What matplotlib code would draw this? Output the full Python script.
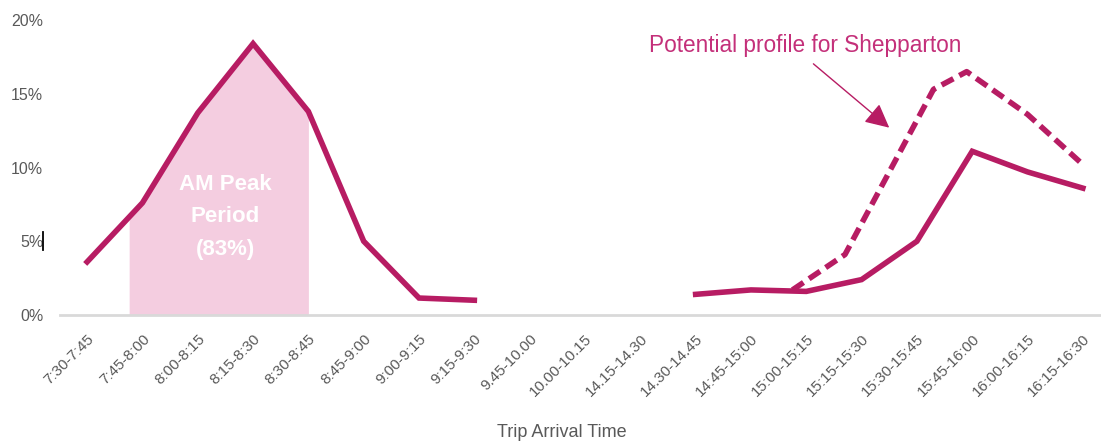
import numpy as np
import matplotlib
matplotlib.use("Agg")
import matplotlib.pyplot as plt

LINE = "#b71c63"
FILL = "#f4cde0"
NOTE = "#c4307a"
TICK = "#595959"

# trip arrival windows (x axis categories)
slots = ["7:30-7:45", "7:45-8:00", "8:00-8:15", "8:15-8:30", "8:30-8:45",
         "8:45-9:00", "9:00-9:15", "9:15-9:30", "9.45-10.00", "10.00-10.15",
         "14.15-14.30", "14.30-14.45", "14:45-15:00", "15:00-15:15",
         "15:15-15:30", "15:30-15:45", "15:45-16:00", "16:00-16:15",
         "16:15-16:30"]

# share of trips per window (%), gaps where no data
am_share = [3.6, 7.6, 13.7, 18.4, 13.8, 5.0, 1.15, 1.0]
pm_share = [1.4, 1.7, 1.6, 2.4, 5.0, 11.1, 9.7, 8.6]
pm_start = 11

# potential Shepparton profile (sketched between category positions)
pot_pos = [12.75, 13.7, 15.3, 15.9, 17.0, 18.0]
pot_share = [1.7, 4.1, 15.3, 16.5, 13.6, 10.2]

# AM peak period shading span (category positions)
peak_span = (0.76, 4.0)
peak_label = "AM Peak\nPeriod\n(83%)"

plt.rcParams["font.family"] = ["Liberation Sans", "DejaVu Sans"]

fig = plt.figure(figsize=(11.01, 4.45), dpi=100)
ax = fig.add_axes([60 / 1101, 130 / 445, 1045 / 1101, 295 / 445])

am_x = np.arange(len(am_share))
pm_x = np.arange(pm_start, pm_start + len(pm_share))

# shaded peak area under the AM curve
fx = np.linspace(peak_span[0], peak_span[1], 200)
ax.fill_between(fx, 0, np.interp(fx, am_x, am_share), color=FILL, lw=0, zorder=1)
ax.text(2.5, 6.65, peak_label, ha="center", va="center",
        color="white", fontsize=16, fontweight="bold", linespacing=1.72, zorder=2)

ax.plot(am_x, am_share, color=LINE, lw=4, solid_joinstyle="miter", zorder=3)
ax.plot(pm_x, pm_share, color=LINE, lw=4, solid_joinstyle="miter", zorder=3)
ax.plot(pot_pos, pot_share, color=LINE, lw=4, ls=(0, (2.4, 1.2)), zorder=3)

ax.annotate("Potential profile for Shepparton", xy=(14.5, 12.7), xytext=(10.15, 18.3),
            color=NOTE, fontsize=16.3, ha="left", va="center",
            arrowprops=dict(arrowstyle="-|>,head_length=0.9,head_width=0.45",
                            color=LINE, lw=1,
                            relpos=(0.5, 0), shrinkA=5, shrinkB=0))

ax.set_xlim(-0.49, 18.4)
ax.set_ylim(0, 20)
ax.set_yticks([0, 5, 10, 15, 20])
ax.set_yticklabels(["0%", "5%", "10%", "15%", "20%"])
ax.set_xticks(range(len(slots)))
ax.set_xticklabels(slots, rotation=45, ha="right", rotation_mode="anchor")
ax.tick_params(axis="both", length=0, colors=TICK)
ax.tick_params(axis="x", pad=12, labelsize=11)
ax.tick_params(axis="y", pad=12, labelsize=11.5)

for s in ["top", "right", "left"]:
    ax.spines[s].set_visible(False)
ax.spines["bottom"].set_color("#d9d9d9")
ax.spines["bottom"].set_linewidth(2)

ax.set_xlabel("Trip Arrival Time", color=TICK, fontsize=13)
ax.xaxis.set_label_coords(0.48, -0.37)

# stray cursor mark beside the 5% label
fig.add_artist(plt.Line2D([43 / 1101, 43 / 1101], [1 - 250 / 445, 1 - 232 / 445],
                          color="black", lw=1.3))

fig.savefig("out.png", dpi=100)
